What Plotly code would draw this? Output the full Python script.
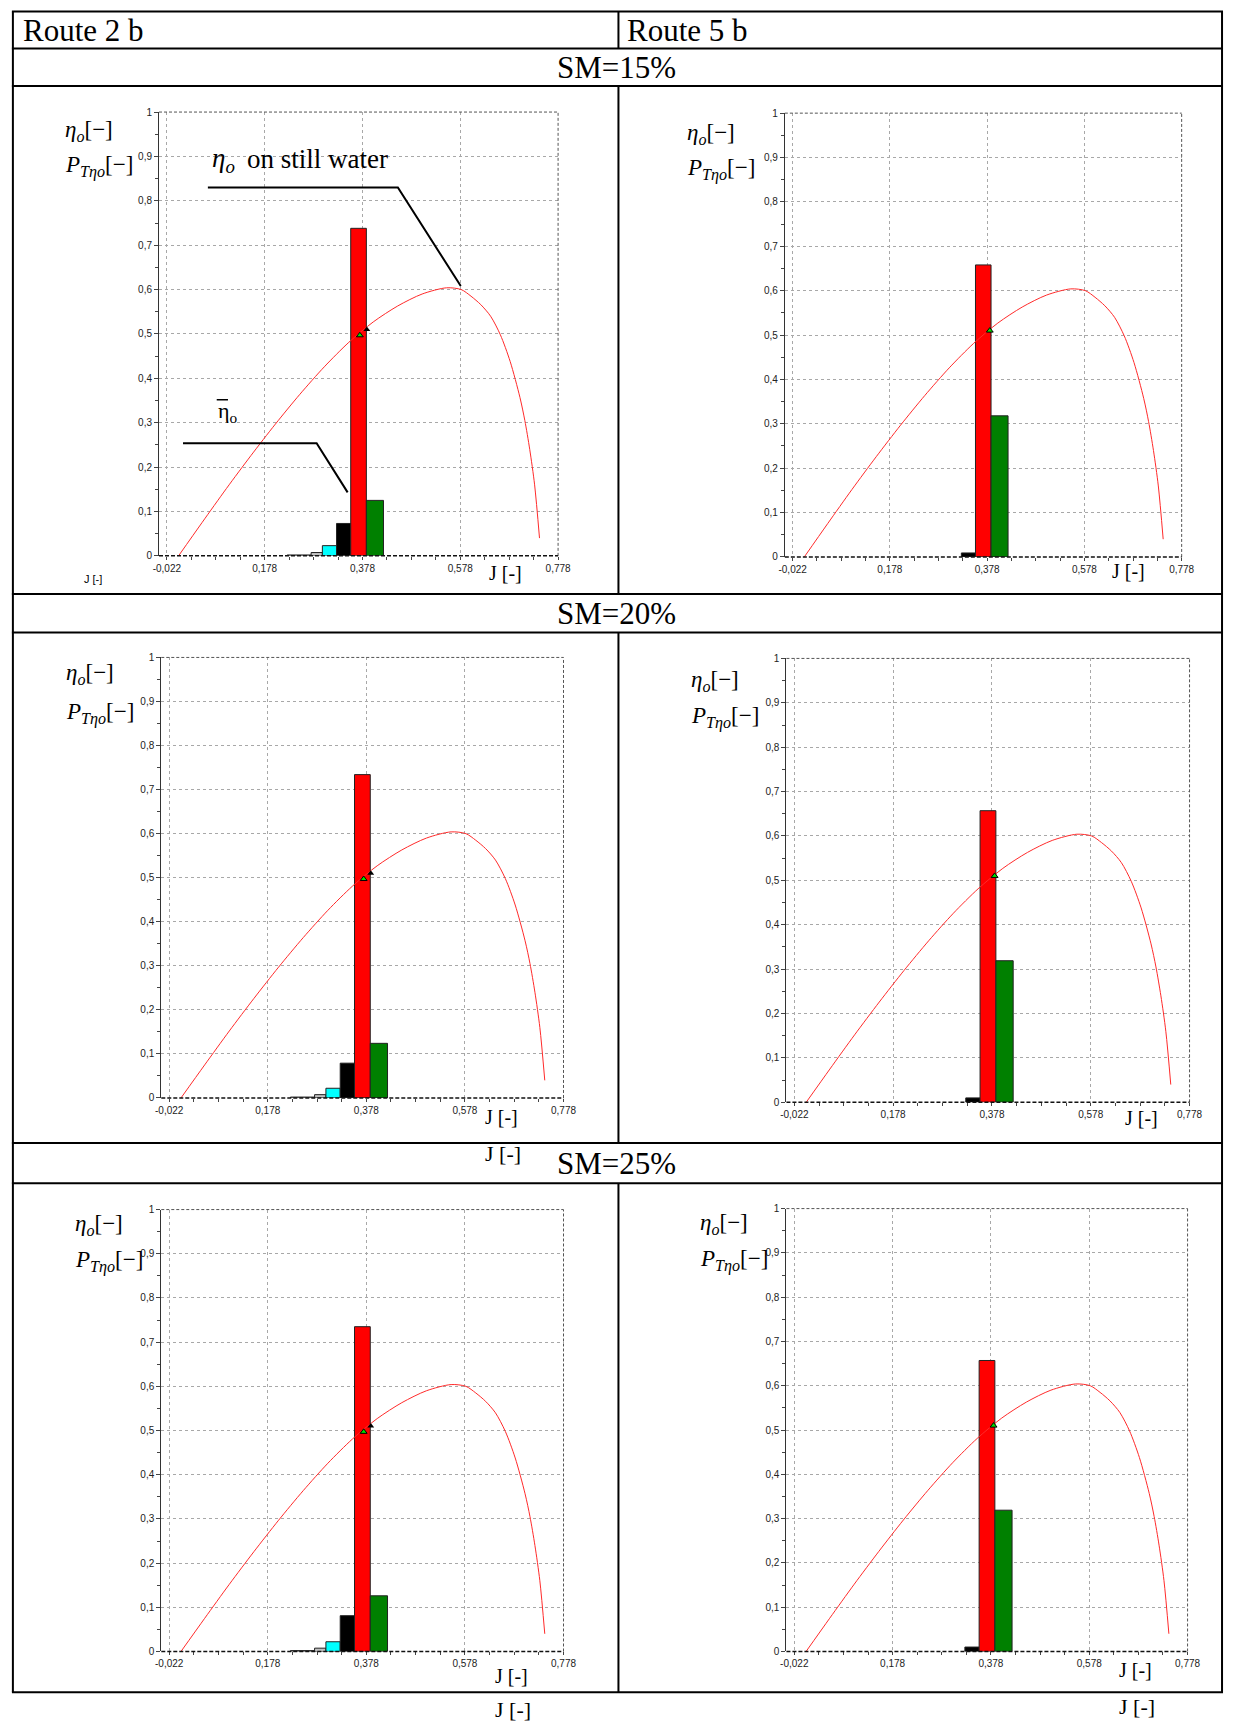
import plotly.graph_objects as go

W, H = 1237, 1726

# ---------------- data ----------------
j_ticks = [-0.022, 0.178, 0.378, 0.578, 0.778]
j_tick_labels = ["-0,022", "0,178", "0,378", "0,578", "0,778"]
eta_ticks = [0, 0.1, 0.2, 0.3, 0.4, 0.5, 0.6, 0.7, 0.8, 0.9, 1.0]
eta_tick_labels = ["0", "0,1", "0,2", "0,3", "0,4", "0,5", "0,6", "0,7", "0,8", "0,9", "1"]

# open water efficiency curve eta_o(J) on still water
curve_j = [0.002, 0.05, 0.10, 0.15, 0.20, 0.25, 0.30, 0.35, 0.40, 0.45, 0.50,
           0.55, 0.58, 0.60, 0.62, 0.64, 0.66, 0.68, 0.70, 0.71, 0.72, 0.73, 0.74]
curve_eta = [0.000, 0.075, 0.152, 0.226, 0.297, 0.364, 0.426, 0.481, 0.527, 0.563, 0.590,
             0.604, 0.600, 0.585, 0.566, 0.540, 0.498, 0.438, 0.357, 0.305, 0.240, 0.160, 0.040]

# histogram bins of J (probability P_T)
bin_lo = [0.224, 0.273, 0.296, 0.325, 0.354, 0.386]
bin_hi = [0.273, 0.296, 0.325, 0.354, 0.386, 0.421]
bin_colors = ["#ffffff", "#c0c0c0", "#00ffff", "#000000", "#ff0000", "#008000"]

p_route2_sm15 = [0.002, 0.0075, 0.023, 0.073, 0.738, 0.125]
p_route5_sm15 = [0.0, 0.0, 0.0, 0.009, 0.658, 0.318]
p_route2_sm20 = [0.002, 0.0075, 0.022, 0.079, 0.734, 0.124]
p_route5_sm20 = [0.0, 0.0, 0.0, 0.010, 0.657, 0.319]
p_route2_sm25 = [0.002, 0.0075, 0.022, 0.081, 0.735, 0.126]
p_route5_sm25 = [0.0, 0.0, 0.0, 0.010, 0.657, 0.319]

# mean operating points (J, eta)
route2_green_pt = (0.3726, 0.497)
route2_black_pt = (0.387, 0.510)
route5_green_pt = (0.3834, 0.510)

row_titles = ["SM=15%", "SM=20%", "SM=25%"]
col_titles = ["Route 2 b", "Route 5 b"]

# ---------------- helpers ----------------
def fx(px):
    return px / W

def fy(py):
    return 1 - py / H

SERIF = "Liberation Serif"
SANS = "Liberation Sans"

panels = [
    dict(p=p_route2_sm15, route=2, xd=(155.4, 560.7), yd=(106.8, 553.7)),
    dict(p=p_route5_sm15, route=5, xd=(791.0, 1194.0), yd=(107.9, 554.8)),
    dict(p=p_route2_sm20, route=2, xd=(157.7, 566.2), yd=(656.0, 1099.6)),
    dict(p=p_route5_sm20, route=5, xd=(792.6, 1202.0), yd=(657.0, 1104.0)),
    dict(p=p_route2_sm25, route=2, xd=(157.7, 566.2), yd=(1212.0, 1657.0)),
    dict(p=p_route5_sm25, route=5, xd=(792.6, 1200.0), yd=(1211.0, 1657.0)),
]

fig = go.Figure()
layout = {}
shapes = []
annotations = []

for i, pn in enumerate(panels, start=1):
    xa = "x" if i == 1 else f"x{i}"
    ya = "y" if i == 1 else f"y{i}"
    xkey = "xaxis" if i == 1 else f"xaxis{i}"
    ykey = "yaxis" if i == 1 else f"yaxis{i}"

    xs, ws, hs, cs = [], [], [], []
    for lo, hi, h, c in zip(bin_lo, bin_hi, pn["p"], bin_colors):
        if h > 0:
            xs.append((lo + hi) / 2)
            ws.append(hi - lo)
            hs.append(h)
            cs.append(c)
    fig.add_trace(go.Bar(x=xs, y=hs, width=ws, marker=dict(color=cs, line=dict(color="#222222", width=1)),
                         xaxis=xa, yaxis=ya, showlegend=False, hoverinfo="skip"))
    fig.add_trace(go.Scatter(x=curve_j, y=curve_eta, mode="lines",
                             line=dict(color="#ff2a2a", width=1, shape="spline", smoothing=0.8),
                             xaxis=xa, yaxis=ya, showlegend=False, hoverinfo="skip"))
    if pn["route"] == 2:
        fig.add_trace(go.Scatter(x=[route2_green_pt[0]], y=[route2_green_pt[1]], mode="markers",
                                 marker=dict(symbol="triangle-up", size=6, color="#00e000", line=dict(color="#000", width=1)),
                                 xaxis=xa, yaxis=ya, showlegend=False, hoverinfo="skip"))
        fig.add_trace(go.Scatter(x=[route2_black_pt[0]], y=[route2_black_pt[1]], mode="markers",
                                 marker=dict(symbol="triangle-up", size=6, color="#000000"),
                                 xaxis=xa, yaxis=ya, showlegend=False, hoverinfo="skip"))
    else:
        fig.add_trace(go.Scatter(x=[route5_green_pt[0]], y=[route5_green_pt[1]], mode="markers",
                                 marker=dict(symbol="triangle-up", size=6, color="#00e000", line=dict(color="#000", width=1)),
                                 xaxis=xa, yaxis=ya, showlegend=False, hoverinfo="skip"))

    layout[xkey] = dict(
        domain=[fx(pn["xd"][0]), fx(pn["xd"][1])], range=[-0.038, 0.778], anchor=ya,
        tickmode="array", tickvals=j_ticks, ticktext=j_tick_labels,
        ticks="outside", ticklen=3, tickcolor="#444", tickfont=dict(family=SANS, size=10, color="#222"),
        showgrid=True, gridcolor="#a8a8a8", griddash="3px,3px", gridwidth=1,
        showline=False, zeroline=False, fixedrange=True,
        minor=dict(tickmode="linear", tick0=-0.022, dtick=0.05, ticks="outside", ticklen=3, tickcolor="#444", showgrid=False),
    )
    layout[ykey] = dict(
        domain=[fy(pn["yd"][1]), fy(pn["yd"][0])], range=[0, 1], anchor=xa,
        tickmode="array", tickvals=eta_ticks, ticktext=eta_tick_labels,
        ticks="outside", ticklen=4, tickcolor="#444", tickfont=dict(family=SANS, size=10, color="#222"),
        showgrid=True, gridcolor="#a8a8a8", griddash="3px,3px", gridwidth=1,
        showline=True, linecolor="#333", linewidth=1, zeroline=False, fixedrange=True,
        minor=dict(tickmode="linear", tick0=0, dtick=0.05, ticks="outside", ticklen=3, tickcolor="#444", showgrid=False),
    )
    xd = f"{xa} domain"
    yd = f"{ya} domain"
    shapes.append(dict(type="line", xref=xd, yref=yd, x0=0, x1=1, y0=1, y1=1, line=dict(color="#555", width=1, dash="3px,2px")))
    shapes.append(dict(type="line", xref=xd, yref=yd, x0=1, x1=1, y0=0, y1=1, line=dict(color="#555", width=1, dash="3px,2px")))
    shapes.append(dict(type="line", xref=xd, yref=yd, x0=0, x1=1, y0=0, y1=0, line=dict(color="#111", width=1.5, dash="4px,2px")))

# ---------------- table grid ----------------
TL, TM, TR = 7.0, 622.0, 1235.0
rows_y = [5.5, 42.7, 80.5, 592.0, 631.0, 1145.0, 1185.5, 1698.0]
for yv in rows_y:
    shapes.append(dict(type="line", xref="paper", yref="paper", x0=fx(TL - 1), x1=fx(TR + 1), y0=fy(yv), y1=fy(yv),
                       line=dict(color="#000", width=2)))
shapes.append(dict(type="line", xref="paper", yref="paper", x0=fx(TL), x1=fx(TL), y0=fy(5.5), y1=fy(1698), line=dict(color="#000", width=2)))
shapes.append(dict(type="line", xref="paper", yref="paper", x0=fx(TR), x1=fx(TR), y0=fy(5.5), y1=fy(1698), line=dict(color="#000", width=2)))
for a, b in [(5.5, 42.7), (80.5, 592.0), (631.0, 1145.0), (1185.5, 1698.0)]:
    shapes.append(dict(type="line", xref="paper", yref="paper", x0=fx(TM), x1=fx(TM), y0=fy(a), y1=fy(b), line=dict(color="#000", width=2)))

def ptext(txt, px, py, size, family=SERIF, xanchor="left"):
    annotations.append(dict(text=txt, x=fx(px), y=fy(py), xref="paper", yref="paper", xanchor=xanchor, yanchor="middle",
                            showarrow=False, font=dict(family=family, size=size, color="#000")))

ptext(col_titles[0], 15, 25, 31)
ptext(col_titles[1], 629, 25, 31)
ptext(row_titles[0], 620, 62, 31, xanchor="center")
ptext(row_titles[1], 620, 612, 31, xanchor="center")
ptext(row_titles[2], 620, 1166, 31, xanchor="center")

eta_lbl = "<i>η<sub>o</sub></i>[−]"
p_lbl = "<i>P<sub>Tηo</sub></i>[−]"
for (ex, ey), (px_, py_) in [((58, 126), (58, 162)), ((690, 129), (690, 165)),
                             ((59, 673), (59, 712)), ((694, 680), (694, 716)),
                             ((68, 1228), (68, 1264)), ((703, 1227), (703, 1263))]:
    ptext(eta_lbl, ex, ey, 23)
    ptext(p_lbl, px_, py_, 23)

for (jx, jy, s) in [(489, 571, 20), (1121, 569, 20), (484, 1119, 20), (484, 1156, 22), (1134, 1120, 20),
                    (495, 1682, 20), (495, 1715, 22), (1128, 1676, 20), (1128, 1712, 22)]:
    ptext("J [-]", jx, jy, s)
ptext("J [-]", 77, 577, 11, family=SANS)

# panel 1 annotations (data coords)
annotations.append(dict(text="<i>η<sub>o</sub></i>", x=0.067, y=0.893, xref="x", yref="y",
                        xanchor="left", yanchor="middle", showarrow=False, font=dict(family=SERIF, size=27, color="#000")))
annotations.append(dict(text="on still water", x=0.138, y=0.895, xref="x", yref="y",
                        xanchor="left", yanchor="middle", showarrow=False, font=dict(family=SERIF, size=27, color="#000")))
annotations.append(dict(text="η<sub>o</sub>", x=0.078, y=0.324, xref="x", yref="y",
                        xanchor="left", yanchor="middle", showarrow=False, font=dict(family=SERIF, size=22, color="#000")))
shapes.append(dict(type="line", xref="x", yref="y", x0=0.080, x1=0.103, y0=0.352, y1=0.352, line=dict(color="#000", width=1.5)))
shapes.append(dict(type="path", xref="x", yref="y", path="M 0.0619,0.830 L 0.4504,0.830 L 0.579,0.608",
                   line=dict(color="#000", width=2)))
shapes.append(dict(type="path", xref="x", yref="y", path="M 0.0111,0.2537 L 0.2843,0.2537 L 0.3477,0.143",
                   line=dict(color="#000", width=2)))

fig.update_layout(
    width=W, height=H, autosize=False,
    margin=dict(l=0, r=0, t=0, b=0),
    paper_bgcolor="white", plot_bgcolor="white",
    barmode="overlay", showlegend=False,
    shapes=shapes, annotations=annotations,
    **layout,
)
fig.write_html("out.html", config={"displayModeBar": False},
               post_script="document.documentElement.style.margin='0px';document.body.style.margin='0px';document.body.style.padding='0px';document.body.style.overflow='hidden';")
